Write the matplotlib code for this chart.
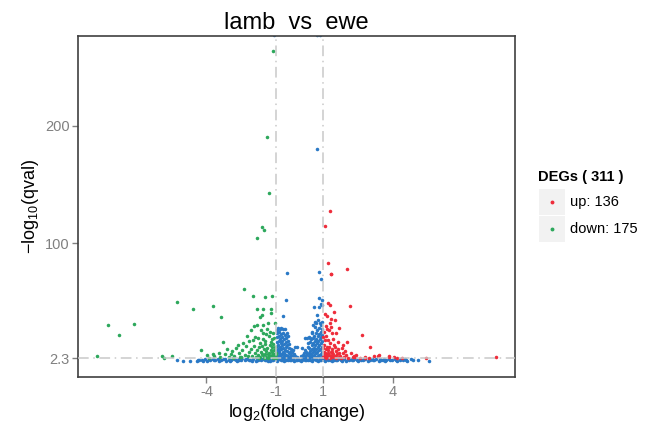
"""
Volcano plot of lamb versus ewe differential expression, ggplot-like look
"""

import matplotlib

matplotlib.use("Agg")  # Render without a display
import matplotlib.pyplot as plt
from matplotlib.lines import Line2D
from matplotlib.patches import Rectangle

TITLE = "lamb  vs  ewe"
X_TICKS = [-4, -1, 1, 4]
Y_TICKS = [2.3, 100, 200]
Y_TICK_LABELS = ["2.3", "100", "200"]
FC_CUT = 1.0
Q_CUT = 2.3
UP_COUNT = 136
DOWN_COUNT = 175

# (log2 fold change, -log10 qval)
UP_POINTS = [
    (1.33, 127.4), (1.10, 115.2), (1.23, 83.2), (2.06, 78.0), (1.36, 73.8), (2.17, 47.1),
    (1.24, 49.6), (1.31, 47.7), (1.50, 41.4), (1.11, 40.0), (1.34, 35.7), (2.69, 21.9),
    (3.03, 11.7), (3.41, 5.1), (3.87, 4.0), (4.08, 3.1), (2.36, 4.3), (5.46, 2.6), (8.44, 3.7),
    (1.30, 32.1), (1.18, 27.0), (1.36, 29.2), (1.53, 34.9), (1.39, 23.6), (1.59, 23.6),
    (1.67, 16.4), (1.33, 15.1), (1.17, 12.2), (1.53, 12.2), (1.82, 10.8), (2.03, 16.4),
    (1.39, 7.9), (2.39, 3.6), (2.82, 2.5), (3.39, 4.3), (3.86, 3.1), (4.18, 2.5),
    (1.02, 3.0), (1.05, 5.5), (1.07, 8.0), (1.09, 3.8), (1.12, 10.5), (1.14, 6.2),
    (1.16, 2.8), (1.19, 4.5), (1.21, 9.0), (1.23, 6.8), (1.25, 3.3), (1.27, 11.5),
    (1.29, 5.2), (1.32, 2.7), (1.35, 7.5), (1.38, 4.0), (1.41, 9.8), (1.44, 3.0),
    (1.46, 6.0), (1.49, 13.5), (1.52, 4.6), (1.55, 8.2), (1.58, 2.9), (1.61, 5.8),
    (1.64, 10.0), (1.68, 3.6), (1.72, 7.0), (1.76, 4.2), (1.80, 2.6), (1.85, 6.4),
    (1.90, 3.3), (1.95, 8.8), (2.00, 4.8), (2.10, 2.8), (2.20, 6.5), (2.30, 3.2),
    (2.45, 5.0), (2.60, 2.7), (2.80, 3.5), (3.00, 2.6), (3.20, 3.9), (4.40, 2.7),
    (1.04, 14.0), (1.08, 18.0), (1.15, 21.0), (1.06, 24.5), (1.22, 17.5), (1.45, 19.0),
    (1.28, 26.0), (1.12, 30.0), (1.20, 38.5), (1.01, 11.0), (1.03, 20.0), (1.88, 14.0),
    (1.70, 28.0), (1.37, 74.0), (1.10, 6.8), (1.26, 4.1), (1.42, 5.1), (1.57, 3.5),
]

DOWN_POINTS = [
    (-1.12, 263.6), (-1.38, 190.6), (-1.32, 143.0), (-1.61, 114.3), (-1.51, 111.5), (-1.84, 104.4),
    (-2.39, 61.0), (-1.98, 55.6), (-1.48, 54.2), (-1.19, 55.3),
    (-3.70, 46.6), (-3.39, 37.7), (-5.25, 50.2), (-4.59, 44.3),
    (-8.69, 4.5), (-8.25, 30.4), (-7.75, 22.4), (-7.10, 31.2),
    (-5.90, 4.0), (-5.83, 2.8), (-5.48, 4.3), (-4.25, 9.1), (-3.89, 2.6), (-3.66, 4.0),
    (-1.81, 44.5), (-1.55, 44.5), (-1.21, 44.5), (-1.21, 41.1), (-1.62, 39.1), (-1.70, 37.2),
    (-1.84, 30.6), (-1.34, 32.1), (-1.05, 32.6), (-1.94, 29.5), (-1.55, 30.9),
    (-1.55, 23.6), (-1.12, 24.1), (-3.27, 16.4), (-2.41, 15.1), (-1.98, 17.9), (-1.77, 19.3),
    (-1.48, 17.3), (-1.19, 18.5), (-3.99, 5.1), (-3.70, 6.0), (-3.44, 7.1), (-3.20, 6.0),
    (-3.05, 3.5), (-2.90, 8.5), (-2.80, 4.2), (-2.72, 11.0), (-2.60, 6.5), (-2.55, 3.2),
    (-2.45, 9.0), (-2.35, 5.0), (-2.28, 12.5), (-2.20, 3.8), (-2.15, 7.5), (-2.08, 10.2),
    (-2.02, 4.6), (-1.95, 13.0), (-1.92, 6.8), (-1.88, 3.0), (-1.82, 9.5), (-1.78, 5.2),
    (-1.74, 11.8), (-1.70, 15.5), (-1.68, 3.6), (-1.64, 7.8), (-1.60, 12.9), (-1.57, 4.8),
    (-1.53, 9.8), (-1.50, 6.0), (-1.47, 14.1), (-1.44, 3.1), (-1.42, 8.4), (-1.39, 11.0),
    (-1.36, 5.5), (-1.33, 21.0), (-1.31, 7.0), (-1.28, 13.5), (-1.26, 3.9), (-1.24, 9.3),
    (-1.22, 16.0), (-1.20, 5.0), (-1.18, 11.5), (-1.16, 7.6), (-1.14, 3.4), (-1.12, 14.5),
    (-1.10, 6.2), (-1.08, 9.0), (-1.06, 4.4), (-1.04, 12.0), (-1.03, 2.9), (-1.02, 7.1),
    (-1.01, 5.6), (-1.90, 20.5), (-2.25, 21.5), (-2.65, 14.0), (-3.10, 10.5), (-2.95, 5.8),
    (-2.50, 3.0), (-1.65, 26.0), (-1.40, 27.5), (-1.25, 25.0), (-2.10, 26.5), (-1.75, 2.7),
    (-1.35, 2.6), (-1.15, 2.5), (-2.85, 2.7), (-3.40, 3.0), (-1.58, 18.5), (-1.08, 19.5),
    (-1.45, 23.0), (-2.18, 16.8), (-1.30, 4.5), (-1.52, 2.8), (-1.10, 3.2), (-1.62, 5.6),
]

NS_POINTS = [
    # scattered non significant genes above the band
    (0.77, 180.2), (-0.55, 74.6), (-0.58, 51.7), (0.83, 75.7), (0.94, 69.5), (0.96, 51.9),
    (0.91, 48.3), (0.63, 46.2), (0.84, 46.2), (0.97, 47.7), (0.85, 53.4), (-0.72, 38.6),
    (0.81, 34.9), (0.73, 32.1), (0.67, 29.2), (0.55, 23.6), (0.50, 18.5), (0.38, 15.1),
    (0.31, 19.3), (-0.09, 12.2), (-0.19, 12.2), (0.10, 10.8), (0.24, 19.3), (0.45, 19.3),
    (0.74, 39.1), (0.67, 33.5), (0.60, 30.6), (0.53, 25.0), (0.43, 20.2),
    (-1.10, 277.5), (0.75, 277.5), (0.88, 277.5),
    # left cloud just inside -1
    (-0.98, 26.5), (-0.92, 28.0), (-0.85, 27.2), (-0.78, 28.3), (-0.70, 27.5), (-0.62, 26.8),
    (-0.55, 24.0), (-0.48, 21.0), (-0.95, 23.5), (-0.88, 24.8), (-0.80, 22.6), (-0.72, 24.2),
    (-0.64, 22.0), (-0.57, 19.5), (-0.50, 17.0), (-0.43, 14.5), (-0.97, 20.0), (-0.90, 21.2),
    (-0.83, 19.0), (-0.76, 20.4), (-0.68, 18.6), (-0.60, 16.2), (-0.52, 13.8), (-0.45, 11.2),
    (-0.38, 10.5), (-0.96, 16.5), (-0.89, 17.4), (-0.81, 15.5), (-0.74, 16.8), (-0.66, 14.2),
    (-0.58, 12.0), (-0.41, 8.0), (-0.33, 7.4), (-0.27, 9.6), (-0.22, 6.0), (-0.97, 13.0),
    (-0.91, 14.0), (-0.84, 12.2), (-0.77, 13.4), (-0.69, 11.0), (-0.61, 9.4), (-0.54, 8.6),
    (-0.47, 6.6), (-0.36, 5.0), (-0.30, 4.0), (-0.18, 4.6), (-0.12, 3.4), (-0.98, 9.5),
    (-0.92, 10.6), (-0.86, 8.8), (-0.79, 9.8), (-0.72, 7.8), (-0.65, 6.8), (-0.56, 5.4),
    (-0.49, 4.2), (-0.40, 3.2), (-0.96, 6.4), (-0.89, 7.2), (-0.82, 5.6), (-0.75, 6.0),
    (-0.68, 4.4), (-0.60, 3.6), (-0.52, 2.9), (-0.94, 3.8), (-0.86, 4.2), (-0.78, 3.0),
    (-0.70, 2.6), (-0.26, 2.8),
    # right cloud just inside 1
    (0.98, 33.0), (0.93, 30.5), (0.88, 32.5), (0.82, 28.4), (0.76, 26.5), (0.70, 24.0),
    (0.63, 21.5), (0.57, 19.8), (0.45, 16.0), (0.35, 12.0), (0.25, 9.0), (0.18, 6.5),
    (0.08, 4.0), (0.97, 27.0), (0.91, 25.0), (0.85, 23.2), (0.79, 21.6), (0.72, 19.0),
    (0.66, 17.4), (0.60, 15.5), (0.52, 13.2), (0.43, 11.0), (0.30, 8.0), (0.14, 4.8),
    (0.99, 22.5), (0.94, 20.0), (0.87, 18.4), (0.80, 16.8), (0.74, 15.0), (0.68, 13.2),
    (0.61, 11.4), (0.54, 9.8), (0.47, 8.4), (0.39, 7.0), (0.32, 5.6), (0.22, 4.2),
    (0.98, 17.0), (0.92, 15.2), (0.86, 13.6), (0.78, 12.0), (0.71, 10.4), (0.64, 8.8),
    (0.57, 7.2), (0.50, 6.0), (0.41, 4.6), (0.28, 3.2), (0.12, 2.8), (0.97, 12.0),
    (0.90, 10.6), (0.83, 9.2), (0.76, 7.8), (0.69, 6.4), (0.62, 5.0), (0.55, 3.8),
    (0.46, 3.0), (0.36, 2.7), (0.99, 7.5), (0.93, 6.2), (0.86, 5.0), (0.80, 4.0),
    (0.73, 3.2), (0.66, 2.6), (0.96, 3.6), (0.89, 2.9),
    # dense band under the q value cut
    (-4.42, 0.3), (-4.31, 1.2), (-4.19, 0.5), (-4.08, 1.6), (-3.96, 0.2), (-3.85, 0.9),
    (-3.73, 1.9), (-3.62, 0.4), (-3.50, 1.3), (-3.39, 0.7), (-3.27, 2.0), (-3.16, 0.3),
    (-3.04, 1.1), (-2.93, 0.6), (-2.81, 1.7), (-2.70, 0.2), (-2.58, 1.0), (-2.47, 2.1),
    (-2.35, 0.5), (-2.24, 1.4), (-2.12, 0.8), (-2.01, 1.9), (-1.89, 0.3), (-1.78, 1.2),
    (-1.66, 0.6), (-1.55, 2.0), (-1.43, 0.4), (-1.32, 1.5), (-1.20, 0.9), (-1.09, 2.1),
    (-0.97, 0.2), (-0.86, 1.3), (-0.74, 0.7), (-0.63, 1.8), (-0.51, 0.4), (-0.40, 1.1),
    (-0.28, 2.2), (-0.17, 0.6), (-0.05, 1.5), (0.06, 0.3), (0.18, 1.9), (0.29, 0.8),
    (0.41, 1.4), (0.52, 0.2), (0.64, 2.0), (0.75, 1.0), (0.87, 0.5), (0.98, 1.7),
    (1.10, 0.3), (1.21, 1.2), (1.33, 0.7), (1.44, 2.0), (1.56, 0.4), (1.67, 1.3),
    (1.79, 0.9), (1.90, 1.8), (2.02, 0.2), (2.13, 1.1), (2.25, 0.6), (2.36, 1.9),
    (2.48, 0.4), (2.59, 1.4), (2.71, 0.8), (2.82, 2.0), (2.94, 0.3), (3.05, 1.2),
    (3.17, 0.6), (3.28, 1.7), (3.40, 0.2), (3.51, 1.0), (3.63, 1.9), (3.74, 0.5),
    (3.86, 1.3), (3.97, 0.8), (4.09, 1.6), (4.20, 0.3), (4.32, 1.1), (4.43, 0.6),
    (4.55, 1.4), (4.64, 0.2), (-4.36, 0.8), (-4.13, 0.2), (-3.90, 1.4), (-3.67, 0.9),
    (-3.44, 0.2), (-3.21, 1.5), (-2.98, 0.2), (-2.75, 1.2), (-2.52, 0.4), (-2.29, 1.7),
    (-2.06, 0.2), (-1.83, 0.7), (-1.60, 1.5), (-1.37, 0.2), (-1.14, 0.8), (-0.91, 1.7),
    (-0.68, 0.3), (-0.45, 1.9), (-0.22, 0.2), (0.00, 0.9), (0.23, 0.4), (0.46, 1.2),
    (0.69, 0.4), (0.92, 1.1), (1.15, 1.8), (1.38, 0.2), (1.61, 0.9), (1.84, 0.3),
    (2.07, 1.6), (2.30, 1.2), (2.53, 0.2), (2.76, 1.3), (2.99, 1.7), (3.22, 0.9),
    (3.45, 1.4), (3.68, 0.2), (3.91, 0.4), (4.14, 0.9), (4.37, 1.8), (4.60, 1.0),
    (-1.50, 1.0), (-1.25, 0.3), (-0.80, 0.5), (-0.57, 1.0), (-0.35, 0.5), (-0.11, 0.9),
    (0.12, 0.6), (0.35, 0.7), (0.58, 1.3), (0.81, 0.3), (1.27, 1.6), (1.50, 1.1),
    (-2.62, 1.6), (-2.18, 0.4), (-1.71, 1.8), (-1.02, 1.4), (-0.33, 1.6), (0.40, 2.0),
    (1.04, 0.8), (1.73, 2.1), (2.19, 1.6), (2.66, 0.5), (3.11, 2.0), (3.57, 0.6),
    (-5.28, 0.8), (-5.00, 0.2), (-4.71, 0.2), (4.80, 1.6), (4.90, 0.5), (5.10, 0.9),
    (5.56, 0.1),
]

UP_COLOR = "#EE2D3B"
DOWN_COLOR = "#2DA85C"
NS_COLOR = "#2A79C6"
CUT_COLOR = "#C9C9C9"
GREY = "#808080"

plt.rcParams["font.family"] = ["Liberation Sans", "DejaVu Sans"]
plt.rcParams["mathtext.fontset"] = "custom"
plt.rcParams["mathtext.rm"] = "Liberation Sans"
plt.rcParams["mathtext.it"] = "Liberation Sans"


def scatter_group(ax, points, color):
    """Draw one group of genes as small dots"""
    xs, ys = zip(*points)
    ax.scatter(xs, ys, s=6.5, color=color, linewidths=0, zorder=2)


def draw_legend(fig):
    """Draw the ggplot style legend with grey key boxes at the right of the panel"""
    fig.text(538 / 651, 1 - 177 / 423, f"DEGs ( {UP_COUNT + DOWN_COUNT} )", fontsize=10.5,
             fontweight="bold", va="center", ha="left")
    rows = [(f"up: {UP_COUNT}", UP_COLOR, 189), (f"down: {DOWN_COUNT}", DOWN_COLOR, 216)]
    for label, color, top in rows:
        fig.patches.append(Rectangle((539 / 651, 1 - (top + 26) / 423), 26 / 651, 26 / 423,
                                     transform=fig.transFigure, facecolor="#F2F2F2", edgecolor="none"))
        cy = 1 - (top + 13) / 423
        fig.lines.append(Line2D([552 / 651], [cy], transform=fig.transFigure, marker="o",
                                markersize=1.8, color=color, linestyle="none"))
        fig.text(570 / 651, cy, label, fontsize=10.5, va="center", ha="left")


def main():
    fig = plt.figure(figsize=(6.51, 4.23), dpi=100)
    ax = fig.add_axes([78.3 / 651, 1 - 376.7 / 423, 437 / 651, 340.7 / 423])

    scatter_group(ax, NS_POINTS, NS_COLOR)
    scatter_group(ax, DOWN_POINTS, DOWN_COLOR)
    scatter_group(ax, UP_POINTS, UP_COLOR)

    dash = (0, (7, 3, 1, 3))
    ax.axhline(Q_CUT, color=CUT_COLOR, linewidth=1.1, linestyle=dash, zorder=3)
    ax.axvline(-FC_CUT, color=CUT_COLOR, linewidth=1.1, linestyle=dash, zorder=3)
    ax.axvline(FC_CUT, color=CUT_COLOR, linewidth=1.1, linestyle=dash, zorder=3)

    ax.set_xlim(-9.51, 9.28)
    ax.set_ylim(-13.4, 276.6)
    ax.set_xticks(X_TICKS)
    ax.set_xticklabels([str(v) for v in X_TICKS])
    ax.set_yticks(Y_TICKS)
    ax.set_yticklabels(Y_TICK_LABELS)
    ax.tick_params(length=4, width=1, color=GREY, labelcolor=GREY, labelsize=10.5, pad=2)
    for spine in ax.spines.values():
        spine.set_color("#404040")
        spine.set_linewidth(1.2)

    ax.set_title(TITLE, fontsize=17, pad=5)
    ax.set_xlabel(r"log$_\mathregular{2}$(fold change)", fontsize=13, labelpad=2)
    ax.set_ylabel("\u2212log$_\\mathregular{10}$(qval)", fontsize=13, labelpad=3)

    draw_legend(fig)
    fig.savefig("out.png", dpi=100)
    plt.close(fig)


if __name__ == "__main__":
    main()
